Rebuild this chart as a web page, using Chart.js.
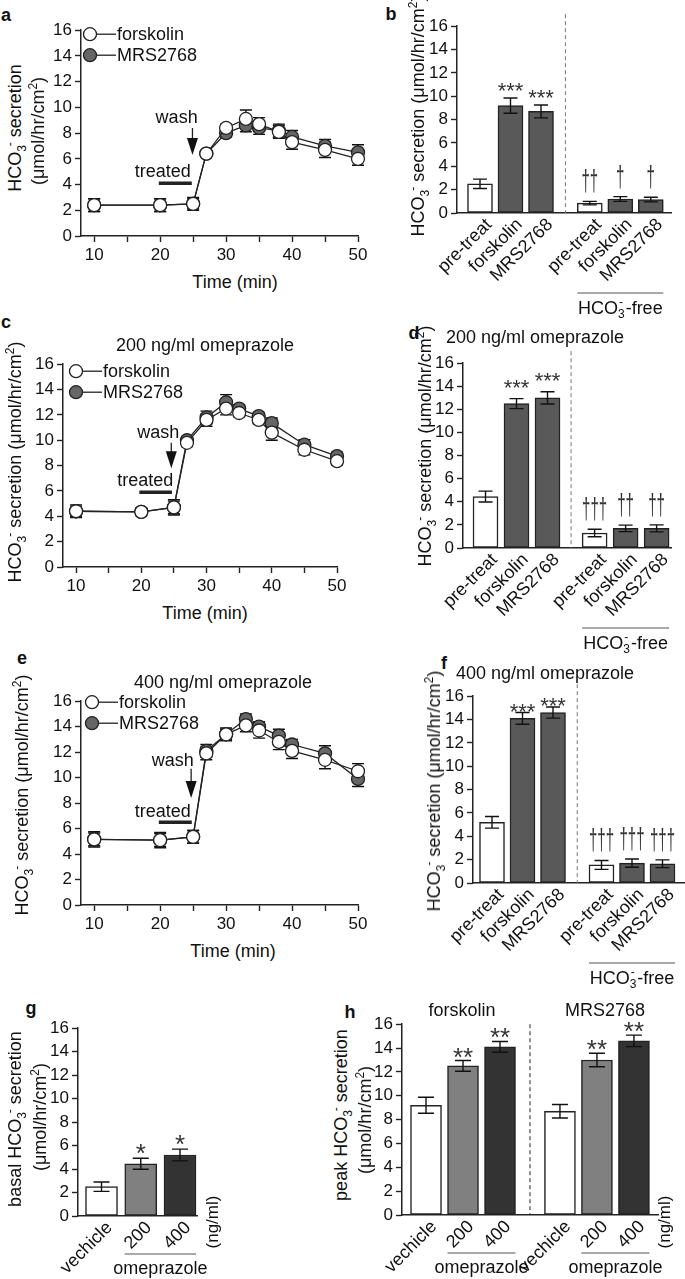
<!DOCTYPE html>
<html>
<head>
<meta charset="utf-8">
<script src="https://cdn.jsdelivr.net/npm/chart.js@4.4.1/dist/chart.umd.min.js"></script>
<style>
  body { margin:0; width:685px; height:1279px; position:relative; overflow:hidden; background:#fff;
         font-family:'Liberation Sans', Arial, sans-serif; color:#111; }
  canvas { position:absolute; }
  .t { position:absolute; white-space:nowrap; font-size:18px; line-height:1; transform:translate(-50%,-50%); }
  .rot { transform:translate(-50%,-50%) rotate(-90deg); }
  .lt { font-weight:bold; font-size:18px; }
  sub, sup { font-size:12px; line-height:0; }
  sup.m { margin-left:-1px; }
</style>
</head>
<body>
<canvas id="chartA"></canvas>
<canvas id="chartB"></canvas>
<canvas id="chartC"></canvas>
<canvas id="chartD"></canvas>
<canvas id="chartE"></canvas>
<canvas id="chartF"></canvas>
<canvas id="chartG"></canvas>
<canvas id="chartH"></canvas>

<!-- panel letters -->
<div class="t lt" style="left:6px;top:15px">a</div>
<div class="t lt" style="left:391px;top:14px">b</div>
<div class="t lt" style="left:6px;top:322px">c</div>
<div class="t lt" style="left:414px;top:333px">d</div>
<div class="t lt" style="left:22px;top:658px">e</div>
<div class="t lt" style="left:444px;top:663px">f</div>
<div class="t lt" style="left:31px;top:1008px">g</div>
<div class="t lt" style="left:350px;top:1012px">h</div>

<!-- titles -->
<div class="t" style="left:205px;top:345px">200 ng/ml omeprazole</div>
<div class="t" style="left:535px;top:337px">200 ng/ml omeprazole</div>
<div class="t" style="left:223px;top:682px">400 ng/ml omeprazole</div>
<div class="t" style="left:545px;top:673px">400 ng/ml omeprazole</div>
<div class="t" style="left:462px;top:1010px">forskolin</div>
<div class="t" style="left:605px;top:1010px">MRS2768</div>

<!-- x titles -->
<div class="t" style="left:235px;top:282px">Time (min)</div>
<div class="t" style="left:205px;top:613px">Time (min)</div>
<div class="t" style="left:233px;top:951px">Time (min)</div>

<!-- y titles -->
<div class="t rot" style="left:15px;top:128px">HCO<sub>3</sub><sup class="m">-</sup> secretion</div>
<div class="t rot" style="left:38px;top:131px">(&mu;mol/hr/cm<sup>2</sup>)</div>
<div class="t rot" style="left:418px;top:116px">HCO<sub>3</sub><sup class="m">-</sup> secretion (&mu;mol/hr/cm<sup>2</sup>)</div>
<div class="t rot" style="left:15px;top:462px">HCO<sub>3</sub><sup class="m">-</sup> secretion (&mu;mol/hr/cm<sup>2</sup>)</div>
<div class="t rot" style="left:425px;top:446px">HCO<sub>3</sub><sup class="m">-</sup> secretion (&mu;mol/hr/cm<sup>2</sup>)</div>
<div class="t rot" style="left:22px;top:795px">HCO<sub>3</sub><sup class="m">-</sup> secretion (&mu;mol/hr/cm<sup>2</sup>)</div>
<div class="t rot" style="left:434px;top:791px">HCO<sub>3</sub><sup class="m">-</sup> secretion (&mu;mol/hr/cm<sup>2</sup>)</div>
<div class="t rot" style="left:15px;top:1119px">basal HCO<sub>3</sub><sup class="m">-</sup> secretion</div>
<div class="t rot" style="left:40px;top:1117px">(&mu;mol/hr/cm<sup>2</sup>)</div>
<div class="t rot" style="left:341px;top:1115px">peak HCO<sub>3</sub><sup class="m">-</sup> secretion</div>
<div class="t rot" style="left:365px;top:1120px">(&mu;mol/hr/cm<sup>2</sup>)</div>

<script>
const FONT = "'Liberation Sans', Arial, sans-serif";

// ---- time courses (a, c, e) ----
const timeMin = [10, 20, 25, 27, 30, 33, 35, 38, 40, 45, 50];
const timeTicks = [10, 15, 20, 25, 30, 35, 40, 45, 50];

const aForskolin    = [2.4, 2.4, 2.5, 6.4, 8.4, 9.1, 8.7, 8.1, 7.3, 6.7, 6.0];
const aForskolinErr = [0.5, 0.5, 0.5, 0.2, 0.3, 0.7, 0.5, 0.5, 0.55, 0.6, 0.5];
const aMRS          = [2.4, 2.4, 2.5, 6.4, 8.0, 8.6, 8.4, 8.2, 7.7, 7.0, 6.5];
const aMRSErr       = [0.5, 0.5, 0.4, 0.2, 0.3, 0.5, 0.5, 0.5, 0.5, 0.5, 0.6];

const cForskolin    = [4.4, 4.35, 4.7, 9.8, 11.6, 12.5, 12.15, 11.6, 10.6, 9.25, 8.35];
const cForskolinErr = [0.5, 0.3, 0.6, 0.3, 0.5, 0.5, 0.3, 0.3, 0.6, 0.4, 0.3];
const cMRS          = [4.4, 4.35, 4.7, 10.0, 11.8, 13.0, 12.5, 11.9, 11.35, 9.65, 8.75];
const cMRSErr       = [0.4, 0.3, 0.5, 0.3, 0.5, 0.6, 0.3, 0.3, 0.4, 0.4, 0.3];

const eForskolin    = [5.15, 5.1, 5.35, 11.9, 13.4, 14.1, 13.7, 12.8, 12.1, 11.4, 10.5];
const eForskolinErr = [0.6, 0.6, 0.5, 0.5, 0.5, 0.5, 0.6, 0.6, 0.6, 0.7, 0.6];
const eMRS          = [5.15, 5.1, 5.35, 12.1, 13.4, 14.6, 14.0, 13.3, 12.6, 11.9, 9.9];
const eMRSErr       = [0.5, 0.5, 0.5, 0.5, 0.4, 0.4, 0.4, 0.5, 0.4, 0.6, 0.6];

// ---- bar panels ----
const phaseLabels = ['pre-treat', 'forskolin', 'MRS2768', 'pre-treat', 'forskolin', 'MRS2768'];

const bMeans = [2.5, 9.2, 8.7, 0.85, 1.2, 1.15];
const bErr   = [0.4, 0.65, 0.55, 0.15, 0.2, 0.2];
const bMarks = ['', '***', '***', '\u2020\u2020', '\u2020', '\u2020'];

const dMeans = [4.45, 12.5, 13.0, 1.3, 1.7, 1.7];
const dErr   = [0.47, 0.43, 0.53, 0.32, 0.28, 0.3];
const dMarks = ['', '***', '***', '\u2020\u2020\u2020', '\u2020\u2020', '\u2020\u2020'];

const fMeans = [5.2, 14.1, 14.6, 1.55, 1.7, 1.65];
const fErr   = [0.5, 0.5, 0.48, 0.38, 0.35, 0.33];
const fMarks = ['', '***', '***', '\u2020\u2020\u2020', '\u2020\u2020\u2020', '\u2020\u2020\u2020'];

const doseLabels = ['vechicle', '200', '400'];
const gMeans = [2.5, 4.45, 5.2];
const gErr   = [0.4, 0.47, 0.5];
const gMarks = ['', '*', '*'];

const hLabels = ['vechicle', '200', '400', 'vechicle', '200', '400'];
const hMeans = [9.2, 12.5, 14.1, 8.7, 13.0, 14.6];
const hErr   = [0.67, 0.45, 0.45, 0.57, 0.57, 0.48];
const hMarks = ['', '**', '**', '', '**', '**'];

const yTicks = { min: 0, max: 16, step: 2 };

// chart areas in page pixels (layout only)
const BOX = {
    a: { L: 81,  T: 29,   R: 358, B: 236 },
    b: { L: 457, T: 25,   R: 672, B: 213 },
    c: { L: 63,  T: 363,  R: 337, B: 567 },
    d: { L: 463, T: 362,  R: 672, B: 548 },
    e: { L: 81,  T: 700,  R: 358, B: 905 },
    f: { L: 473, T: 695,  R: 685, B: 883 },
    g: { L: 78,  T: 1027, R: 197, B: 1216 },
    h: { L: 402, T: 1023, R: 658, B: 1215 }
};
const PAD_TOP = 12, Y_W = 36;

function mount(id, box, padRight, xh) {
    const c = document.getElementById(id);
    c.width = box.R - box.L + Y_W + padRight;
    c.height = box.B - box.T + PAD_TOP + xh;
    c.style.left = (box.L - Y_W) + 'px';
    c.style.top = (box.T - PAD_TOP) + 'px';
    return c;
}

function yScale() {
    return {
        min: yTicks.min, max: yTicks.max,
        afterFit: s => { s.width = Y_W; },
        ticks: { stepSize: yTicks.step, autoSkip: false, font: { size: 17, family: FONT }, color: '#111', padding: 3 },
        grid: { drawOnChartArea: false, tickLength: 6, tickColor: '#222', tickWidth: 1.4 },
        border: { color: '#222', width: 1.5 }
    };
}

// error bars
function drawErrors(chart, o) {
    const { ctx } = chart;
    const y = chart.scales.y;
    ctx.save();
    ctx.strokeStyle = '#111';
    ctx.lineWidth = 1.4;
    chart.data.datasets.forEach((ds, di) => {
        const meta = chart.getDatasetMeta(di);
        meta.data.forEach((el, i) => {
            const v = ds.data[i].y, e = ds.err[i];
            const top = y.getPixelForValue(v + e), bot = y.getPixelForValue(v - e);
            const x = el.x, w = o.cap;
            ctx.beginPath();
            ctx.moveTo(x, top); ctx.lineTo(x, bot);
            ctx.moveTo(x - w, top); ctx.lineTo(x + w, top);
            ctx.moveTo(x - w, bot); ctx.lineTo(x + w, bot);
            ctx.stroke();
        });
    });
    ctx.restore();
}

const errorBars = {
    id: 'errorBars',
    beforeDatasetsDraw(chart, args, o) { if (o.under) drawErrors(chart, o); },
    afterDatasetsDraw(chart, args, o) { if (!o.under) drawErrors(chart, o); }
};

// legend, wash arrow, treated bar on the time courses
const timeNotes = {
    id: 'timeNotes',
    afterDraw(chart, args, o) {
        const { ctx, chartArea: ca } = chart;
        const x = chart.scales.x, y = chart.scales.y;
        ctx.save();
        ctx.strokeStyle = '#222';
        ctx.lineWidth = 1.3;
        ctx.font = `18px ${FONT}`;
        ctx.textBaseline = 'middle';
        chart.data.datasets.forEach((ds, i) => {
            const cx = ca.left + o.legendDx, cy = ca.top + o.legendDy + i * 21;
            ctx.beginPath(); ctx.moveTo(cx, cy); ctx.lineTo(cx + 26, cy); ctx.stroke();
            ctx.beginPath(); ctx.arc(cx, cy, 6.5, 0, Math.PI * 2);
            ctx.fillStyle = ds.pointBackgroundColor; ctx.fill(); ctx.stroke();
            ctx.fillStyle = '#111'; ctx.textAlign = 'left';
            ctx.fillText(ds.label, cx + 27, cy + 1);
        });

        // wash arrow
        const ax = x.getPixelForValue(o.washAt);
        const aTop = y.getPixelForValue(o.arrow[0]), tip = y.getPixelForValue(o.arrow[1]);
        ctx.beginPath(); ctx.moveTo(ax, aTop); ctx.lineTo(ax, tip - 15); ctx.stroke();
        ctx.beginPath();
        ctx.moveTo(ax - 5.5, tip - 17); ctx.lineTo(ax + 5.5, tip - 17); ctx.lineTo(ax, tip);
        ctx.closePath(); ctx.fillStyle = '#111'; ctx.fill();
        ctx.textAlign = 'center';
        ctx.fillText('wash', x.getPixelForValue(o.washText[0]), y.getPixelForValue(o.washText[1]));

        // treated
        ctx.fillText('treated', x.getPixelForValue(o.treatedText[0]), y.getPixelForValue(o.treatedText[1]));
        ctx.lineWidth = 3.5;
        const ty = y.getPixelForValue(o.treatedLevel);
        ctx.beginPath();
        ctx.moveTo(x.getPixelForValue(o.treated[0]), ty);
        ctx.lineTo(x.getPixelForValue(o.treated[1]), ty);
        ctx.stroke();
        ctx.restore();
    }
};

function timeChart(id, box, fsk, fskErr, mrs, mrsErr, notes) {
    const pts = vals => timeMin.map((t, i) => ({ x: t, y: vals[i] }));
    const common = {
        borderColor: '#222', borderWidth: 1.3, tension: 0,
        pointRadius: 6.5, pointBorderColor: '#222', pointBorderWidth: 1.3, clip: false
    };
    new Chart(mount(id, box, 14, 30), {
        type: 'line',
        data: {
            datasets: [
                Object.assign({ label: 'forskolin', data: pts(fsk), err: fskErr, pointBackgroundColor: '#fff' }, common),
                Object.assign({ label: 'MRS2768', data: pts(mrs), err: mrsErr, pointBackgroundColor: '#666' }, common)
            ]
        },
        options: {
            responsive: false, animation: false, events: [],
            layout: { padding: { top: PAD_TOP, right: 14, left: 0, bottom: 0 } },
            scales: {
                x: {
                    type: 'linear', min: 8, max: 50,
                    afterBuildTicks: a => { a.ticks = timeTicks.map(v => ({ value: v })); },
                    afterFit: s => { s.height = 30; },
                    ticks: { callback: v => (v % 10 ? '' : v), autoSkip: false, maxRotation: 0,
                             font: { size: 17, family: FONT }, color: '#111', padding: 3 },
                    grid: { drawOnChartArea: false, tickLength: 6, tickColor: '#222', tickWidth: 1.4 },
                    border: { color: '#222', width: 1.5 }
                },
                y: yScale()
            },
            plugins: {
                legend: { display: false }, tooltip: { enabled: false },
                errorBars: { under: true, cap: 6 },
                timeNotes: notes
            }
        },
        plugins: [errorBars, timeNotes]
    });
}

// canvas text "HCO3--free"
function hcoFree(ctx, cx, cy) {
    const big = `18px ${FONT}`, small = `12px ${FONT}`;
    ctx.font = big;
    const w1 = ctx.measureText('HCO').width, w3 = ctx.measureText('-free').width;
    ctx.font = small;
    const w2 = ctx.measureText('3').width;
    let x = cx - (w1 + w2 + 1 + w3) / 2;
    const base = cy + 6;
    ctx.textAlign = 'left'; ctx.textBaseline = 'alphabetic';
    ctx.font = big; ctx.fillText('HCO', x, base); x += w1;
    ctx.font = small; ctx.fillText('3', x, base + 4); ctx.fillText('-', x + 1, base - 8); x += w2 + 1;
    ctx.font = big; ctx.fillText('-free', x, base);
}

// category labels, marks, divider, group lines on bar panels
const barNotes = {
    id: 'barNotes',
    afterDraw(chart, args, o) {
        const { ctx, chartArea: ca } = chart;
        const y = chart.scales.y;
        const ds = chart.data.datasets[0];
        const bars = chart.getDatasetMeta(0).data;
        ctx.save();

        if (o.divider) {
            const dx = (bars[2].x + bars[3].x) / 2;
            ctx.strokeStyle = o.divider.color; ctx.lineWidth = 1;
            ctx.setLineDash([4, 3]);
            ctx.beginPath(); ctx.moveTo(dx, ca.top - o.divider.ext); ctx.lineTo(dx, ca.bottom); ctx.stroke();
            ctx.setLineDash([]);
        }

        bars.forEach((bar, i) => {
            const mark = ds.marks[i];
            if (mark) {
                const top = y.getPixelForValue(ds.data[i].y + ds.err[i]);
                ctx.fillStyle = '#333';
                ctx.textAlign = 'center'; ctx.textBaseline = 'alphabetic';
                ctx.save();
                if (mark[0] === '*') {
                    ctx.font = `${o.starSize}px ${FONT}`;
                    ctx.translate(bar.x, top + o.markDy);
                } else {
                    ctx.font = `29px ${FONT}`;
                    ctx.translate(bar.x, top - 10);
                    ctx.scale(0.52, 1);
                }
                ctx.fillText(mark, 0, 0);
                ctx.restore();
            }
            ctx.save();
            ctx.fillStyle = '#111';
            ctx.font = `18px ${FONT}`;
            ctx.translate(bar.x + o.lblDx, ca.bottom + o.lblDy);
            ctx.rotate(-Math.PI / 4);
            ctx.textAlign = 'right'; ctx.textBaseline = 'middle';
            ctx.fillText(chart.data.labels[i], 0, 0);
            ctx.restore();
        });

        (o.groups || []).forEach(([a, b]) => {
            const x0 = bars[a].x - bars[a].width / 2, x1 = bars[b].x + bars[b].width / 2;
            ctx.strokeStyle = '#555'; ctx.lineWidth = 1.2;
            ctx.beginPath(); ctx.moveTo(x0, ca.bottom + o.groupDy); ctx.lineTo(x1, ca.bottom + o.groupDy); ctx.stroke();
            ctx.fillStyle = '#111';
            const cx = (x0 + x1) / 2, cy = ca.bottom + o.groupTextDy;
            if (o.groupText === 'hco') {
                hcoFree(ctx, cx, cy);
            } else {
                ctx.font = `18px ${FONT}`; ctx.textAlign = 'center'; ctx.textBaseline = 'middle';
                ctx.fillText(o.groupText, cx, cy);
            }
        });

        if (o.unit) {
            const last = bars[bars.length - 1];
            ctx.save();
            ctx.fillStyle = '#111'; ctx.font = `17px ${FONT}`;
            ctx.translate(last.x + o.unit.dx, ca.bottom + o.unit.dy);
            ctx.rotate(-Math.PI / 2);
            ctx.textAlign = 'center'; ctx.textBaseline = 'middle';
            ctx.fillText(o.unit.text, 0, 0);
            ctx.restore();
        }
        ctx.restore();
    }
};

function barChart(id, box, labels, means, errs, marks, colors, gap, xr, thick, xh, padRight, notes) {
    const data = means.map((m, i) => ({ x: i + (i >= 3 ? gap : 0), y: m }));
    new Chart(mount(id, box, padRight, xh), {
        type: 'bar',
        data: {
            labels: labels,
            datasets: [{
                data: data, err: errs, marks: marks,
                backgroundColor: colors, borderColor: '#222', borderWidth: 1.5,
                borderSkipped: false, barThickness: thick
            }]
        },
        options: {
            responsive: false, animation: false, events: [],
            layout: { padding: { top: PAD_TOP, right: padRight, left: 0, bottom: 0 } },
            scales: {
                x: {
                    type: 'linear', min: xr[0], max: xr[1], offset: false,
                    afterFit: s => { s.height = xh; },
                    ticks: { display: false },
                    grid: { display: false, offset: false },
                    border: { display: true, color: '#222', width: 1.5 }
                },
                y: yScale()
            },
            plugins: {
                legend: { display: false }, tooltip: { enabled: false },
                errorBars: { under: false, cap: notes.cap },
                barNotes: notes
            }
        },
        plugins: [errorBars, barNotes]
    });
}

// ---- draw ----
timeChart('chartA', BOX.a, aForskolin, aForskolinErr, aMRS, aMRSErr, {
    legendDx: 9, legendDy: 4, washAt: 24.9, arrow: [8.4, 6.3], washText: [22.5, 9.2],
    treatedText: [20.4, 4.95], treated: [19.8, 24.8], treatedLevel: 4.1
});
timeChart('chartC', BOX.c, cForskolin, cForskolinErr, cMRS, cMRSErr, {
    legendDx: 13, legendDy: 7, washAt: 24.6, arrow: [9.8, 7.8], washText: [22.6, 10.6],
    treatedText: [20.6, 6.8], treated: [19.7, 24.7], treatedLevel: 5.9
});
timeChart('chartE', BOX.e, eForskolin, eForskolinErr, eMRS, eMRSErr, {
    legendDx: 11, legendDy: 1, washAt: 24.7, arrow: [10.7, 8.4], washText: [21.9, 11.3],
    treatedText: [20.4, 7.3], treated: [19.8, 24.8], treatedLevel: 6.5
});

const grayCols = ['#fff', '#595959', '#595959', '#fff', '#595959', '#595959'];
const doseCols = ['#fff', '#808080', '#333333'];

const phaseNotes = extra => Object.assign({
    cap: 7, starSize: 22, lblDx: 9, lblDy: 9,
    divider: { color: '#777', ext: 12 },
    groups: [[3, 5]], groupDy: 80, groupTextDy: 95, groupText: 'hco'
}, extra);

barChart('chartB', BOX.b, phaseLabels, bMeans, bErr, bMarks, grayCols, 0.6, [-0.754, 6.295], 25, 105, 0, phaseNotes({ markDy: 0 }));
barChart('chartD', BOX.d, phaseLabels, dMeans, dErr, dMarks, grayCols, 0.52, [-0.726, 6.016], 25, 105, 0, phaseNotes({ markDy: -4 }));
barChart('chartF', BOX.f, phaseLabels, fMeans, fErr, fMarks, grayCols, 0.59, [-0.623, 6.328], 25, 105, 0, phaseNotes({ markDy: 6 }));

barChart('chartG', BOX.g, doseLabels, gMeans, gErr, gMarks, doseCols, 0, [-0.599, 2.433], 32, 63, 40, {
    cap: 8, starSize: 26, markDy: 4, lblDx: 8, lblDy: 9,
    groups: [[1, 2]], groupDy: 38, groupTextDy: 53, groupText: 'omeprazole',
    unit: { text: '(ng/ml)', dx: 33, dy: 6 }
});
barChart('chartH', BOX.h, hLabels, hMeans, hErr, hMarks, doseCols.concat(doseCols), 0.62, [-0.649, 6.27], 31, 63, 27, {
    cap: 8, starSize: 26, markDy: 5, lblDx: 8, lblDy: 9,
    divider: { color: '#222', ext: 0 },
    groups: [[1, 2], [4, 5]], groupDy: 38, groupTextDy: 53, groupText: 'omeprazole',
    unit: { text: '(ng/ml)', dx: 31, dy: 7 }
});
</script>
</body>
</html>
